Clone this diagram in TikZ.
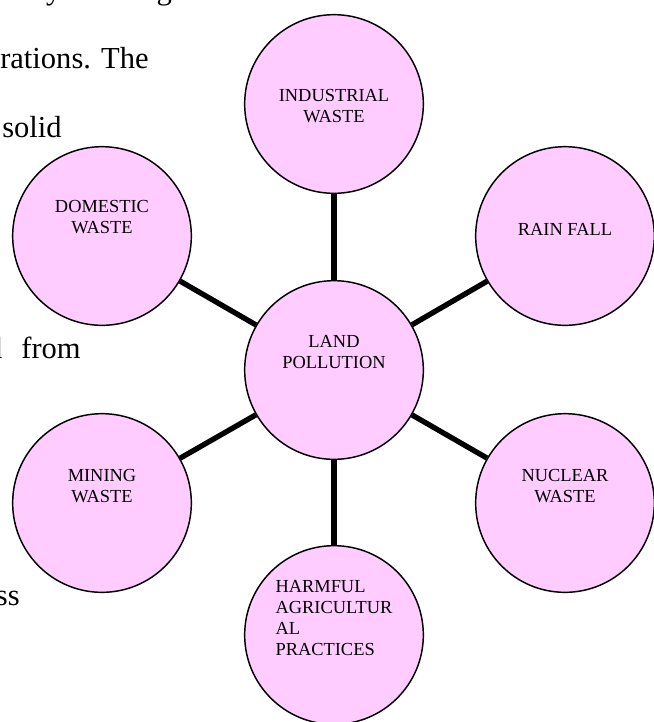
\documentclass[tikz,border=0pt]{standalone}
\usepackage{fontspec}
\setmainfont{Liberation Serif}
\usepackage{tikz}
\definecolor{bubblepink}{RGB}{255,204,255}

\begin{document}
\begin{tikzpicture}[x=0.75pt,y=-0.75pt,
	bubble/.style={circle,draw,line width=1.1pt,fill=bubblepink,minimum size=134pt,inner sep=0pt},
	txt/.style={font=\fontsize{13.8}{15.75}\selectfont,inner sep=0pt,align=center},
	spoke/.style={line width=4pt},
	page/.style={font=\fontsize{22.9}{27}\selectfont,inner sep=0pt}]
\useasboundingbox (0,0) rectangle (654,722);
\clip (0,0) rectangle (654,722);
% text of the page behind the picture
\node [page,anchor=base east] (p1) at (268,-1) {ry discharged solid};
\node [page,anchor=base west] (p2) at (0,68) {rations. The};
\node [page,anchor=base west] (p3) at (2,137) {solid};
\node [page,anchor=base east] (p4) at (81,358) {d\hspace{0.62em}from};
\node [page,anchor=base east] (p5) at (20,605) {ss};
% the bubbles
\node [bubble,label={[txt,yshift=13.5pt]center:LAND\\POLLUTION}] (a) at (334,370) {};
\node [bubble,label={[txt,yshift=-1.5pt]center:INDUSTRIAL\\WASTE}] (b) at (334,104) {};
\node [bubble,label={[txt,yshift=5pt]center:RAIN FALL}] (c) at (565,236) {};
\node [bubble,label={[txt,yshift=12.4pt]center:NUCLEAR\\WASTE}] (d) at (565,503) {};
\node [bubble,label={[txt,align=left,yshift=12.75pt]center:HARMFUL\\AGRICULTUR\\AL\\PRACTICES}] (e) at (334,635) {};
\node [bubble,label={[txt,yshift=12.4pt]center:MINING\\WASTE}] (f) at (102,503) {};
\node [bubble,label={[txt,yshift=13.9pt]center:DOMESTIC\\WASTE}] (g) at (102,236) {};
% spokes
\draw [spoke] (a) -- (b);
\draw [spoke] (a) -- (c);
\draw [spoke] (a) -- (d);
\draw [spoke] (a) -- (e);
\draw [spoke] (a) -- (f);
\draw [spoke] (a) -- (g);
\end{tikzpicture}
\end{document}
